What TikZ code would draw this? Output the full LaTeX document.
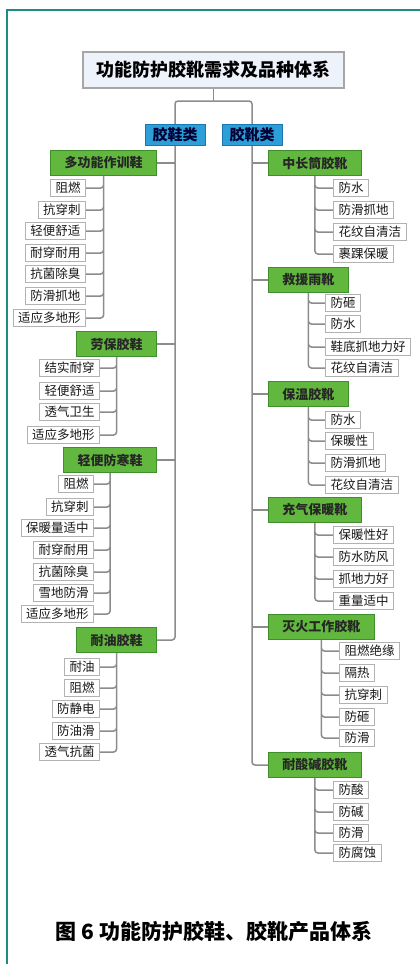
\documentclass[tikz,border=0pt]{standalone}
\usepackage{fontspec}
\setmainfont{Noto Sans CJK SC}
\usepackage{xcolor}
\usetikzlibrary{backgrounds}
\definecolor{frameteal}{HTML}{1E8C80}
\definecolor{kindgreen}{HTML}{62B83E}
\definecolor{kindline}{HTML}{3F8E2C}
\definecolor{catblue}{HTML}{2C9ED8}
\definecolor{catline}{HTML}{1B78AE}
\definecolor{titlefill}{HTML}{EEF2FA}
\definecolor{linkgray}{HTML}{8C8C8C}

\begin{document}
\begin{tikzpicture}[x=1pt,y=-1pt,
    titlebox/.style={draw=gray!70,line width=1.2pt,fill=titlefill,minimum width=261pt,minimum height=36pt,font=\fontsize{18}{20}\selectfont\bfseries},
    catbox/.style={draw=catline,line width=0.8pt,fill=catblue,text=black!80!blue,minimum width=60pt,minimum height=21pt,inner sep=0pt,font=\fontsize{15}{16}\selectfont\bfseries},
    kindbox/.style={draw=kindline,line width=0.8pt,fill=kindgreen,text=black!85,minimum height=25pt,inner xsep=14pt,inner ysep=0pt,font=\fontsize{13}{14}\selectfont\bfseries},
    featbox/.style={draw=gray!60,line width=1pt,fill=white,text=black!90,minimum height=17pt,inner xsep=5pt,inner ysep=0pt,font=\fontsize{12.5}{13}\selectfont},
    link/.style={draw=linkgray,line width=1.5pt,rounded corners=3pt}]
        \useasboundingbox (0,0) rectangle (420,964);
        \draw[frameteal,line width=2pt] (7,964) -- (7,10) -- (420,10);
        % top of the tree
        \node[titlebox] (title) at (213.5,70) {功能防护胶靴需求及品种体系};
        \coordinate (split) at (213.5,101);
        \node[catbox] (shoe) at (175,135) {胶鞋类};
        \node[catbox] (boot) at (252,135) {胶靴类};
        % shoes
        \node[kindbox,anchor=east] (g1) at (157,163) {多功能作训鞋};
        \node[kindbox,anchor=east] (g2) at (157,344) {劳保胶鞋};
        \node[kindbox,anchor=east] (g3) at (157,460) {轻便防寒鞋};
        \node[kindbox,anchor=east] (g4) at (157,640) {耐油胶鞋};
        \node[featbox,anchor=east] (a1) at (86,188) {阻燃};
        \node[featbox,anchor=east] (a2) at (86,210) {抗穿刺};
        \node[featbox,anchor=east] (a3) at (86,231) {轻便舒适};
        \node[featbox,anchor=east] (a4) at (86,253) {耐穿耐用};
        \node[featbox,anchor=east] (a5) at (86,274) {抗菌除臭};
        \node[featbox,anchor=east] (a6) at (86,296) {防滑抓地};
        \node[featbox,anchor=east] (a7) at (86,318) {适应多地形};
        \node[featbox,anchor=east] (b1) at (100,368) {结实耐穿};
        \node[featbox,anchor=east] (b2) at (100,391) {轻便舒适};
        \node[featbox,anchor=east] (b3) at (100,412) {透气卫生};
        \node[featbox,anchor=east] (b4) at (100,435) {适应多地形};
        \node[featbox,anchor=east] (c1) at (94,484) {阻燃};
        \node[featbox,anchor=east] (c2) at (94,507) {抗穿刺};
        \node[featbox,anchor=east] (c3) at (94,528) {保暖量适中};
        \node[featbox,anchor=east] (c4) at (94,550) {耐穿耐用};
        \node[featbox,anchor=east] (c5) at (94,572) {抗菌除臭};
        \node[featbox,anchor=east] (c6) at (94,593) {雪地防滑};
        \node[featbox,anchor=east] (c7) at (94,614) {适应多地形};
        \node[featbox,anchor=east] (d1) at (100,667) {耐油};
        \node[featbox,anchor=east] (d2) at (100,688) {阻燃};
        \node[featbox,anchor=east] (d3) at (100,709) {防静电};
        \node[featbox,anchor=east] (d4) at (100,731) {防油滑};
        \node[featbox,anchor=east] (d5) at (100,752) {透气抗菌};
        % boots
        \node[kindbox,anchor=west] (h1) at (268,163) {中长筒胶靴};
        \node[kindbox,anchor=west] (h2) at (268,280) {救援雨靴};
        \node[kindbox,anchor=west] (h3) at (268,394) {保温胶靴};
        \node[kindbox,anchor=west] (h4) at (268,510) {充气保暖靴};
        \node[kindbox,anchor=west] (h5) at (268,627) {灭火工作胶靴};
        \node[kindbox,anchor=west] (h6) at (268,765) {耐酸碱胶靴};
        \node[featbox,anchor=west] (e1) at (333,188) {防水};
        \node[featbox,anchor=west] (e2) at (333,210) {防滑抓地};
        \node[featbox,anchor=west] (e3) at (333,232) {花纹自清洁};
        \node[featbox,anchor=west] (e4) at (333,254) {裹踝保暖};
        \node[featbox,anchor=west] (f1) at (325,303) {防砸};
        \node[featbox,anchor=west] (f2) at (325,324) {防水};
        \node[featbox,anchor=west] (f3) at (325,347) {鞋底抓地力好};
        \node[featbox,anchor=west] (f4) at (325,368) {花纹自清洁};
        \node[featbox,anchor=west] (k1) at (325,420) {防水};
        \node[featbox,anchor=west] (k2) at (325,441) {保暖性};
        \node[featbox,anchor=west] (k3) at (325,463) {防滑抓地};
        \node[featbox,anchor=west] (k4) at (325,485) {花纹自清洁};
        \node[featbox,anchor=west] (m1) at (333,535) {保暖性好};
        \node[featbox,anchor=west] (m2) at (333,557) {防水防风};
        \node[featbox,anchor=west] (m3) at (333,579) {抓地力好};
        \node[featbox,anchor=west] (m4) at (333,601) {重量适中};
        \node[featbox,anchor=west] (n1) at (339,651) {阻燃绝缘};
        \node[featbox,anchor=west] (n2) at (339,673) {隔热};
        \node[featbox,anchor=west] (n3) at (339,695) {抗穿刺};
        \node[featbox,anchor=west] (n4) at (339,717) {防砸};
        \node[featbox,anchor=west] (n5) at (339,738) {防滑};
        \node[featbox,anchor=west] (p1) at (333,790) {防酸};
        \node[featbox,anchor=west] (p2) at (333,812) {防碱};
        \node[featbox,anchor=west] (p3) at (333,833) {防滑};
        \node[featbox,anchor=west] (p4) at (333,853) {防腐蚀};
        \node[font=\fontsize{21}{23}\selectfont\bfseries] (caption) at (214,932) {图 6 功能防护胶鞋、胶靴产品体系};
        \begin{scope}[on background layer]
        \draw[link] (title.south) -- (split);
        \draw[link] (split) -| (shoe.north);
        \draw[link] (split) -| (boot.north);
        \draw[link] (shoe.south) |- (g4.east);
        \draw[link] (boot.south) |- (h6.west);
        \draw[link] (g1.east) -- (g1.east -| shoe.south) (g2.east) -- (g2.east -| shoe.south) (g3.east) -- (g3.east -| shoe.south);
        \draw[link] (h1.west) -- (h1.west -| boot.south) (h2.west) -- (h2.west -| boot.south) (h3.west) -- (h3.west -| boot.south)
            (h4.west) -- (h4.west -| boot.south) (h5.west) -- (h5.west -| boot.south);
        \draw[link] (g1.south) |- (a1.east) (g1.south) |- (a2.east) (g1.south) |- (a3.east) (g1.south) |- (a4.east)
            (g1.south) |- (a5.east) (g1.south) |- (a6.east) (g1.south) |- (a7.east);
        \draw[link] (g2.south) |- (b1.east) (g2.south) |- (b2.east) (g2.south) |- (b3.east) (g2.south) |- (b4.east);
        \draw[link] (g3.south) |- (c1.east) (g3.south) |- (c2.east) (g3.south) |- (c3.east) (g3.south) |- (c4.east)
            (g3.south) |- (c5.east) (g3.south) |- (c6.east) (g3.south) |- (c7.east);
        \draw[link] (g4.south) |- (d1.east) (g4.south) |- (d2.east) (g4.south) |- (d3.east) (g4.south) |- (d4.east) (g4.south) |- (d5.east);
        \draw[link] (h1.south) |- (e1.west) (h1.south) |- (e2.west) (h1.south) |- (e3.west) (h1.south) |- (e4.west);
        \draw[link] (h2.south) |- (f1.west) (h2.south) |- (f2.west) (h2.south) |- (f3.west) (h2.south) |- (f4.west);
        \draw[link] (h3.south) |- (k1.west) (h3.south) |- (k2.west) (h3.south) |- (k3.west) (h3.south) |- (k4.west);
        \draw[link] (h4.south) |- (m1.west) (h4.south) |- (m2.west) (h4.south) |- (m3.west) (h4.south) |- (m4.west);
        \draw[link] (h5.south) |- (n1.west) (h5.south) |- (n2.west) (h5.south) |- (n3.west) (h5.south) |- (n4.west) (h5.south) |- (n5.west);
        \draw[link] (h6.south) |- (p1.west) (h6.south) |- (p2.west) (h6.south) |- (p3.west) (h6.south) |- (p4.west);
        \end{scope}
    \end{tikzpicture}
\end{document}
